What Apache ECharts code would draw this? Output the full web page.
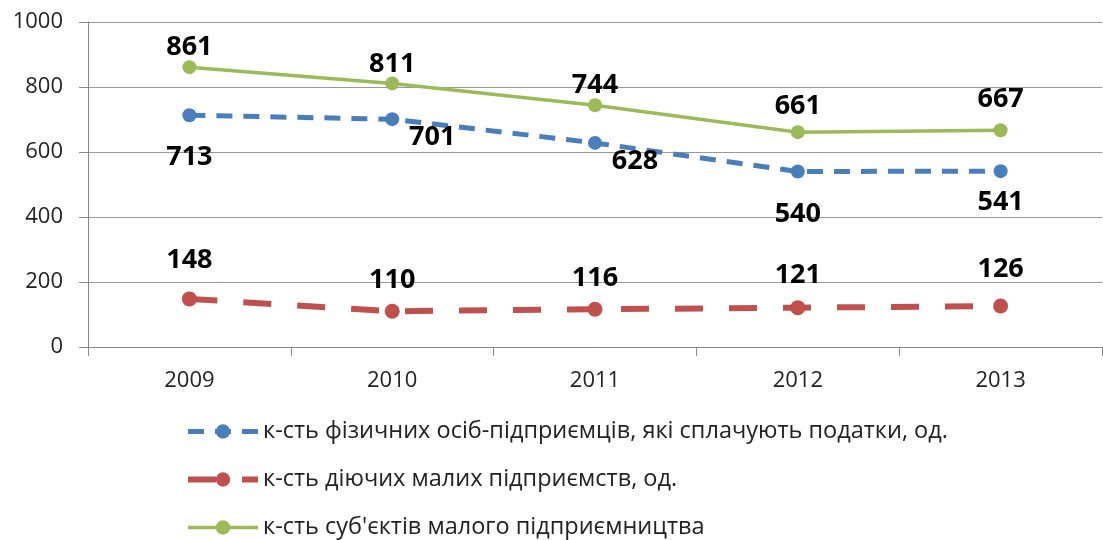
<!DOCTYPE html>
<html>
<head>
<meta charset="utf-8">
<script src="https://cdn.jsdelivr.net/npm/echarts@6/dist/echarts.min.js"></script>
<style>
    html, body {margin: 0; padding: 0; background: #fff;}
    #chart {width: 1103px; height: 540px;}
</style>
</head>
<body>
<div id="chart"></div>
<script>
var years = ['2009', '2010', '2011', '2012', '2013'];
var fopValues = [713, 701, 628, 540, 541];
var smallEntValues = [148, 110, 116, 121, 126];
var subjectValues = [861, 811, 744, 661, 667];
var seriesNames = [
    'к-сть фізичних осіб-підприємців, які сплачують податки, од.',
    'к-сть діючих малих підприємств, од.',
    'к-сть суб\'єктів малого підприємництва'
];

var labelFont = {
    fontFamily: 'Open Sans',
    fontWeight: 'bold',
    fontSize: 27,
    color: '#000'
};

// small manual nudges of the data labels, as in the original
var fopShift = [[0, 0], [40, -24], [40, -24], [0, 0], [0, -11]];
var smallShift = [0, 8, 8, 7, 2];
var subjShift = [0, 0, 0, -6, -11];

var chart = echarts.init(document.getElementById('chart'));
var option = {
    animation: false,
    textStyle: {fontFamily: 'Open Sans'},
    grid: {left: 88, right: 1, top: 22, bottom: 193},
    legend: {
        orient: 'vertical',
        left: 185,
        top: 415,
        height: 200,
        padding: 0,
        itemGap: 15,
        itemWidth: 70,
        itemHeight: 18,
        lineStyle: {width: 'inherit'},
        textStyle: {fontSize: 23.5, color: '#222', fontFamily: 'Open Sans', lineHeight: 33},
        data: seriesNames
    },
    xAxis: {
        type: 'category',
        data: years,
        boundaryGap: true,
        axisLine: {lineStyle: {color: '#888', width: 1}},
        axisTick: {show: true, length: 9, lineStyle: {color: '#888'}},
        axisLabel: {fontSize: 22, color: '#222', margin: 23}
    },
    yAxis: {
        type: 'value',
        min: 0,
        max: 1000,
        interval: 200,
        axisLine: {show: true, lineStyle: {color: '#888'}},
        axisTick: {show: true, length: 9, lineStyle: {color: '#888'}},
        axisLabel: {fontSize: 22, color: '#222', margin: 25, formatter: function (v) { return String(v); }},
        splitLine: {lineStyle: {color: '#999', width: 1}}
    },
    series: [
        {
            name: seriesNames[0],
            type: 'line',
            data: fopValues,
            symbol: 'circle',
            symbolSize: 14,
            itemStyle: {color: '#4A7EBB'},
            lineStyle: {width: 5, type: [16, 11], color: '#4A7EBB'},
            label: {
                show: true,
                position: 'bottom',
                distance: 22,
                ...labelFont
            },
            labelLayout: function (params) {
                var s = fopShift[params.dataIndex];
                return {dx: s[0], dy: s[1]};
            }
        },
        {
            name: seriesNames[1],
            type: 'line',
            data: smallEntValues,
            symbol: 'circle',
            symbolSize: 15,
            itemStyle: {color: '#C0504D'},
            lineStyle: {width: 6, type: [28, 26], color: '#C0504D'},
            label: {
                show: true,
                position: 'top',
                distance: 18,
                ...labelFont
            },
            labelLayout: function (params) {
                return {dy: smallShift[params.dataIndex]};
            }
        },
        {
            name: seriesNames[2],
            type: 'line',
            data: subjectValues,
            symbol: 'circle',
            symbolSize: 14,
            itemStyle: {color: '#9BBB59'},
            lineStyle: {width: 3.5, color: '#9BBB59'},
            label: {
                show: true,
                position: 'top',
                distance: -1,
                ...labelFont
            },
            labelLayout: function (params) {
                return {dy: subjShift[params.dataIndex]};
            }
        }
    ]
};
chart.setOption(option);
</script>
</body>
</html>
